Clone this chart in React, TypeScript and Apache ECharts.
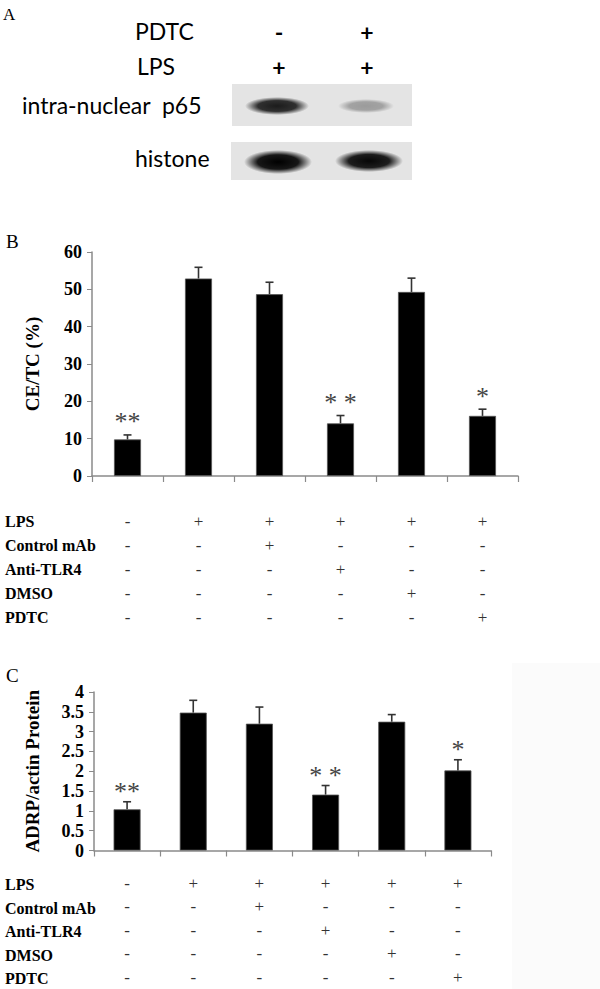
import React, { useEffect, useRef } from "react";
import * as echarts from "echarts";

// ---------- data ----------
const groups = ["G1", "G2", "G3", "G4", "G5", "G6"];
const treatmentNames = ["LPS", "Control mAb", "Anti-TLR4", "DMSO", "PDTC"];
const lpsRow = ["-", "+", "+", "+", "+", "+"];
const controlMabRow = ["-", "-", "+", "-", "-", "-"];
const antiTlr4Row = ["-", "-", "-", "+", "-", "-"];
const dmsoRow = ["-", "-", "-", "-", "+", "-"];
const pdtcRow = ["-", "-", "-", "-", "-", "+"];
const treatmentRows = [lpsRow, controlMabRow, antiTlr4Row, dmsoRow, pdtcRow];

// Panel B: CE/TC (%)
const ceTcMean = [9.8, 52.9, 48.7, 14.1, 49.3, 16.1];
const ceTcErr = [1.2, 3.0, 3.2, 2.1, 3.7, 1.8];
const ceTcStars = ["**", "", "", "* *", "", "*"];
const ceTcAxis = { min: 0, max: 60, interval: 10 };

// Panel C: ADRP/actin protein
const adrpMean = [1.04, 3.48, 3.2, 1.41, 3.25, 2.02];
const adrpErr = [0.19, 0.31, 0.42, 0.23, 0.18, 0.27];
const adrpStars = ["**", "", "", "* *", "", "*"];
const adrpAxis = { min: 0, max: 4, interval: 0.5 };

// Panel A: western blot
const blotPdtc = ["-", "+"];
const blotLps = ["+", "+"];
const p65Intensity = [0.88, 0.32];
const histoneIntensity = [1.0, 0.97];

// ---------- layout ----------
const SERIF = "'Liberation Serif', 'Times New Roman', serif";
const SANS = "Lato, 'Open Sans', sans-serif";
const gridB = { left: 92, top: 252, width: 426, height: 224 };
const gridC = { left: 94, top: 692, width: 397, height: 160 };
const tableB = { margin: 33, lineHeight: 24 };
const tableC = { margin: 21, lineHeight: 23.5 };

function xAxisFor(gridIndex: number, table: { margin: number; lineHeight: number }) {
  return {
    type: "category",
    gridIndex,
    data: groups,
    axisLine: { lineStyle: { color: "#8a8a8a", width: 1.5 } },
    axisTick: { show: true, length: 6, lineStyle: { color: "#8a8a8a", width: 1.2 } },
    axisLabel: {
      interval: 0,
      margin: table.margin,
      lineHeight: table.lineHeight,
      fontFamily: SERIF,
      fontSize: 17,
      color: "#333",
      formatter: (_v: string, idx: number) => treatmentRows.map((r) => r[idx]).join("\n"),
    },
  };
}

function yAxisFor(gridIndex: number, ax: { min: number; max: number; interval: number }, name: string, nameGap: number) {
  return {
    type: "value",
    gridIndex,
    min: ax.min,
    max: ax.max,
    interval: ax.interval,
    name,
    nameLocation: "middle",
    nameRotate: 90,
    nameGap,
    nameTextStyle: { fontFamily: SERIF, fontWeight: "bold", fontSize: 19, color: "#000" },
    axisLine: { show: true, lineStyle: { color: "#8a8a8a", width: 1.5 } },
    axisTick: { show: true, length: 5, lineStyle: { color: "#8a8a8a" } },
    splitLine: { show: false },
    axisLabel: { fontFamily: SERIF, fontWeight: "bold", fontSize: 18, color: "#000", margin: 10 },
  };
}

function errorSeries(idx: number, mean: number[], err: number[], stars: string[], starGap: number) {
  return {
    type: "custom",
    xAxisIndex: idx,
    yAxisIndex: idx,
    z: 10,
    data: mean.map((m, i) => [i, m, err[i]]),
    renderItem: (params: any, api: any) => {
      const x = api.value(0);
      const m = api.value(1);
      const e = api.value(2);
      const p0 = api.coord([x, m]);
      const p1 = api.coord([x, m + e]);
      const star = stars[params.dataIndex];
      const children: any[] = [
        { type: "line", shape: { x1: p0[0], y1: p0[1], x2: p1[0], y2: p1[1] }, style: { stroke: "#333", lineWidth: 1.6 } },
        { type: "line", shape: { x1: p1[0] - 4, y1: p1[1], x2: p1[0] + 4, y2: p1[1] }, style: { stroke: "#333", lineWidth: 1.6 } },
      ];
      if (star) {
        children.push({
          type: "text",
          x: p1[0],
          y: p1[1] - starGap,
          style: {
            text: star,
            fontFamily: SERIF,
            fontSize: 26,
            fill: "#444",
            align: "center",
            verticalAlign: "middle",
            textAlign: "center",
            textVerticalAlign: "middle",
          },
        });
      }
      return { type: "group", children };
    },
  };
}

function band(cx: number, cy: number, rx: number, ry: number, k: number) {
  return {
    type: "ellipse",
    shape: { cx, cy, rx, ry },
    style: {
      fill: {
        type: "radial",
        x: 0.5,
        y: 0.5,
        r: 0.5,
        colorStops: [
          { offset: 0, color: `rgba(0,0,0,${k})` },
          { offset: 0.6, color: `rgba(0,0,0,${k * 0.9})` },
          { offset: 1, color: "rgba(0,0,0,0)" },
        ],
      },
    },
    z: 5,
  };
}

function txt(text: string, x: number, y: number, font: any, align = "left") {
  return {
    type: "text",
    x,
    y,
    style: {
      text,
      fill: "#000",
      align,
      verticalAlign: "middle",
      textAlign: align,
      textVerticalAlign: "middle",
      ...font,
    },
    z: 6,
  };
}

export default function App() {
  const ref = useRef<HTMLDivElement>(null);
  useEffect(() => {
    if (!ref.current) return;
    const chart = echarts.init(ref.current, undefined, { renderer: "svg" });

    const sansA = { fontFamily: SANS, fontSize: 23 };
    const laneX = [279, 367];
    const graphics: any[] = [
      // faint panel at right of C
      { type: "rect", shape: { x: 512, y: 663, width: 88, height: 326 }, style: { fill: "#fbfbfb" }, z: -1 },
      // panel letters
      txt("A", 3, 14, { fontFamily: SERIF, fontSize: 17 }),
      txt("B", 6, 241, { fontFamily: SERIF, fontSize: 19 }),
      txt("C", 6, 675, { fontFamily: SERIF, fontSize: 19 }),
      // panel A labels
      txt("PDTC", 135, 31, sansA),
      txt("LPS", 137, 66, sansA),
      txt("intra-nuclear  p65", 22, 105, sansA),
      txt("histone", 135, 158, sansA),
      ...blotPdtc.map((s, i) => txt(s, laneX[i], 32, { ...sansA, fontWeight: "bold" }, "center")),
      ...blotLps.map((s, i) => txt(s, laneX[i], 67, { ...sansA, fontWeight: "bold" }, "center")),
      // blot backgrounds
      { type: "rect", shape: { x: 232, y: 84, width: 180, height: 42 }, style: { fill: "#e4e4e4" }, z: 4 },
      { type: "rect", shape: { x: 231, y: 142, width: 181, height: 38 }, style: { fill: "#e4e4e4" }, z: 4 },
      band(277, 106, 32, 9, p65Intensity[0]),
      band(366, 106, 28, 7, p65Intensity[1]),
      band(278, 162, 34, 12, histoneIntensity[0]),
      band(369, 161, 34, 11, histoneIntensity[1]),
    ];
    // treatment row labels for B and C
    const addRows = (grid: any, table: any) => {
      const base = grid.top + grid.height + table.margin;
      treatmentNames.forEach((n, i) => {
        graphics.push(txt(n, 5, base + table.lineHeight * (i + 0.5), { fontFamily: SERIF, fontWeight: "bold", fontSize: 16 }));
      });
    };
    addRows(gridB, tableB);
    addRows(gridC, tableC);

    chart.setOption({
      animation: false,
      backgroundColor: "#fff",
      grid: [
        { ...gridB, containLabel: false },
        { ...gridC, containLabel: false },
      ],
      xAxis: [xAxisFor(0, tableB), xAxisFor(1, tableC)],
      yAxis: [yAxisFor(0, ceTcAxis, "CE/TC (%)", 50), yAxisFor(1, adrpAxis, "ADRP/actin Protein", 52)],
      series: [
        {
          type: "bar",
          xAxisIndex: 0,
          yAxisIndex: 0,
          data: ceTcMean,
          barWidth: 27,
          itemStyle: { color: "#000", borderColor: "#555", borderWidth: 0.8 },
        },
        errorSeries(0, ceTcMean, ceTcErr, ceTcStars, 13),
        {
          type: "bar",
          xAxisIndex: 1,
          yAxisIndex: 1,
          data: adrpMean,
          barWidth: 27,
          itemStyle: { color: "#000", borderColor: "#555", borderWidth: 0.8 },
        },
        errorSeries(1, adrpMean, adrpErr, adrpStars, 10),
      ],
      graphic: graphics,
    });
    return () => chart.dispose();
  }, []);
  return <div ref={ref} style={{ position: "absolute", left: 0, top: 0, width: 600, height: 989 }} />;
}
